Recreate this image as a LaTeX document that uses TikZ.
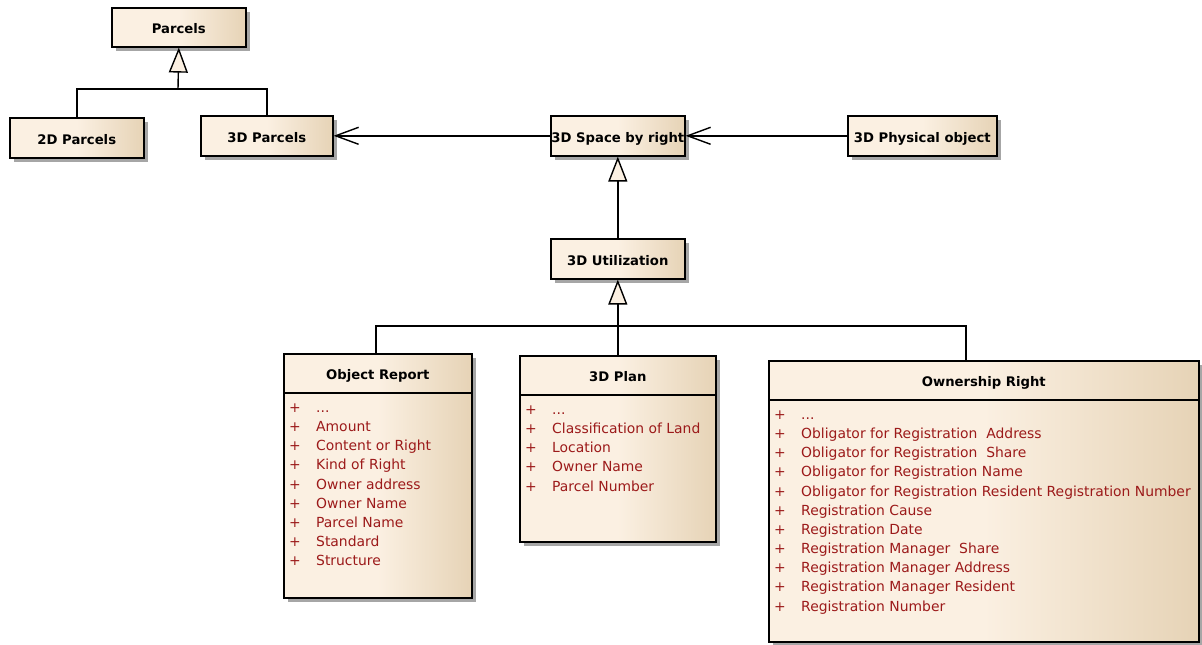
\documentclass[tikz,border=0pt]{standalone}
\usepackage{fontspec}
\setmainfont{DejaVu Sans}
\usetikzlibrary{arrows.meta,calc,shadows}

\definecolor{clsL}{HTML}{FBF0E2}
\definecolor{clsR}{HTML}{E6D3B6}
\definecolor{attrRed}{HTML}{9C1A1A}
\definecolor{shadowGray}{HTML}{A6A6A6}

% cream on the left, warming to tan towards the right edge
\pgfdeclarehorizontalshading{clsfill}{100bp}{color(0bp)=(clsL); color(25bp)=(clsL); color(50bp)=(clsL); color(75bp)=(clsR); color(100bp)=(clsR)}

\tikzset{
  clsbox/.style={draw=black, line width=1.6pt, shading=clsfill, inner sep=0pt,
    drop shadow={shadow xshift=4pt, shadow yshift=-4pt, fill=shadowGray, opacity=1}},
  hdr/.style={font=\fontsize{13.2}{15}\selectfont\bfseries, inner sep=0pt, anchor=base},
  attr/.style={font=\fontsize{13.9}{16}\selectfont, text=attrRed, inner sep=0pt, anchor=base west},
  conn/.style={draw=black, line width=1.4pt},
  gen/.style={conn, -{Triangle[length=25pt, width=19pt, fill=clsL, line width=1.4pt]}},
  assoc/.style={conn, -{Straight Barb[length=23pt, width=17pt, line width=1.4pt]}}
}

% placeholder row shown as three dots
\newcommand\clsdots{...}

% attribute rows of a class box: #1 box name, #2 list of attributes
\newcommand\attrrows[2]{%
  \foreach \t [count=\i from 0] in {#2} {
    \node[attr] (#1-a\i) at ($(#1.north west)+(6,{59.5+\i*19.15})$)
      {\makebox[27pt][l]{+}\t};
  }%
}
% header title and separator line of a class box
\newcommand\classhead[2]{%
  \node[hdr] (#1-title) at ($(#1.north)+(0,26.5)$) {#2};
  \draw[line width=1.6pt] ($(#1.north west)+(0,40)$) -- ($(#1.north east)+(0,40)$);
}
% title of a class box without compartments
\newcommand\classname[2]{%
  \node[hdr] (#1-title) at ($(#1.center)+(0,6.5)$) {#2};
}

\begin{document}
\begin{tikzpicture}[x=1pt, y=-1pt]
\useasboundingbox (0,0) rectangle (1202,645);

% simple classes
\node[clsbox, minimum width=134pt, minimum height=39pt, anchor=north west] (parcels) at (111,7) {};
\classname{parcels}{Parcels}
\node[clsbox, minimum width=134pt, minimum height=40pt, anchor=north west] (p2d) at (9,117) {};
\classname{p2d}{2D Parcels}
\node[clsbox, minimum width=132pt, minimum height=40pt, anchor=north west] (p3d) at (200,115) {};
\classname{p3d}{3D Parcels}
\node[clsbox, minimum width=134pt, minimum height=40pt, anchor=north west] (space) at (550,115) {};
\classname{space}{3D Space by right}
\node[clsbox, minimum width=149pt, minimum height=40pt, anchor=north west] (phys) at (847,115) {};
\classname{phys}{3D Physical object}
\node[clsbox, minimum width=134pt, minimum height=40pt, anchor=north west] (util) at (550,238) {};
\classname{util}{3D Utilization}

% classes with attribute compartments
\node[clsbox, minimum width=188pt, minimum height=244pt, anchor=north west] (orep) at (283,353) {};
\classhead{orep}{Object Report}
\attrrows{orep}{\clsdots, Amount, Content or Right, Kind of Right, Owner address, Owner Name, Parcel Name, Standard, Structure}

\node[clsbox, minimum width=196pt, minimum height=186pt, anchor=north west] (plan) at (519,355) {};
\classhead{plan}{3D Plan}
\attrrows{plan}{\clsdots, Classification of Land, Location, Owner Name, Parcel Number}

\node[clsbox, minimum width=430pt, minimum height=281pt, anchor=north west] (own) at (768,360) {};
\classhead{own}{Ownership Right}
\attrrows{own}{\clsdots, Obligator for Registration~ Address, Obligator for Registration~ Share, Obligator for Registration Name, Obligator for Registration Resident Registration Number, Registration Cause, Registration Date, Registration Manager~ Share, Registration Manager Address, Registration Manager Resident, Registration Number}

% generalization: 2D / 3D parcels
\coordinate (j1) at (178,89);
\draw[conn] (p2d.north) |- (p3d.north |- j1) -- (p3d.north);
\draw[gen] (j1) -- (parcels.south);

% associations
\draw[assoc] (space.west) -- (p3d.east);
\draw[assoc] (phys.west) -- (space.east);

% generalization: utilization
\draw[gen] (util.north) -- (space.south);

% generalization: utilization kinds
\coordinate (j2) at (617,326);
\coordinate (orepTop) at ($(orep.north)+(-2,0)$);
\coordinate (ownTop) at ($(own.north west)+(198,0)$);
\draw[conn] (orepTop) |- (ownTop |- j2) -- (ownTop);
\draw[gen] (plan.north) -- (util.south);
\end{tikzpicture}
\end{document}
